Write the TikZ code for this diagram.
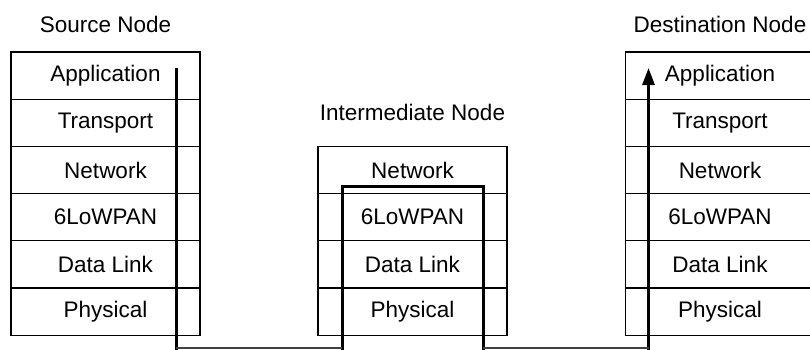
\documentclass[tikz,border=0pt]{standalone}
\usepackage{fontspec}
\setmainfont{Liberation Sans}
\usetikzlibrary{positioning,calc,arrows.meta}
\begin{document}
\begin{tikzpicture}[x=1pt, y=-1pt, font=\fontsize{22.5}{27}\selectfont,
  layer/.style={draw, line width=1.3pt, minimum width=189pt, minimum height=47.2pt, inner sep=0pt, outer sep=0pt},
  title/.style={inner sep=0pt},
  route/.style={line width=3pt},
  wire/.style={line width=1.1pt, black!75}]
\useasboundingbox (0,0) rectangle (810,349);
\coordinate (floor) at (0,348); \coordinate (edge) at (0,352);
% source and destination stacks
\foreach \s/\x in {s/105.5,d/720} {
  \node[layer] (\s1) at (\x,75.6) {Application};
  \node[layer, below=0pt of \s1] (\s2) {Transport};
  \node[layer, below=0pt of \s2] (\s3) {Network};
  \node[layer, below=0pt of \s3] (\s4) {6LoWPAN};
  \node[layer, below=0pt of \s4] (\s5) {Data Link};
  \node[layer, below=0pt of \s5] (\s6) {Physical};
}
% intermediate stack
\node[layer] (i3) at (412.5,170) {Network};
\node[layer, below=0pt of i3] (i4) {6LoWPAN};
\node[layer, below=0pt of i4] (i5) {Data Link};
\node[layer, below=0pt of i5] (i6) {Physical};
\node[title, above=19pt of s1] (sTitle) {Source Node};
\node[title, above=25pt of i3] (iTitle) {Intermediate Node};
\node[title, above=19pt of d1] (dTitle) {Destination Node};
% packet route
\coordinate (sTop) at ($(s1.north east)+(-24,16)$);
\coordinate (iL) at ($(i3.south west)+(24,-7)$);
\coordinate (iR) at ($(i3.south east)+(-24,-7)$);
\coordinate (dTop) at ($(d1.north west)+(23,16)$);
\draw[route] (sTop) -- (sTop |- edge);
\draw[route] (iL |- edge) -- (iL) -- (iR) -- (iR |- edge);
\draw[route, -{Triangle[width=12pt,length=17pt]}] (dTop |- edge) -- (dTop);
\draw[wire] (sTop |- floor) -- (iL |- floor) (iR |- floor) -- (dTop |- floor);
\end{tikzpicture}
\end{document}
